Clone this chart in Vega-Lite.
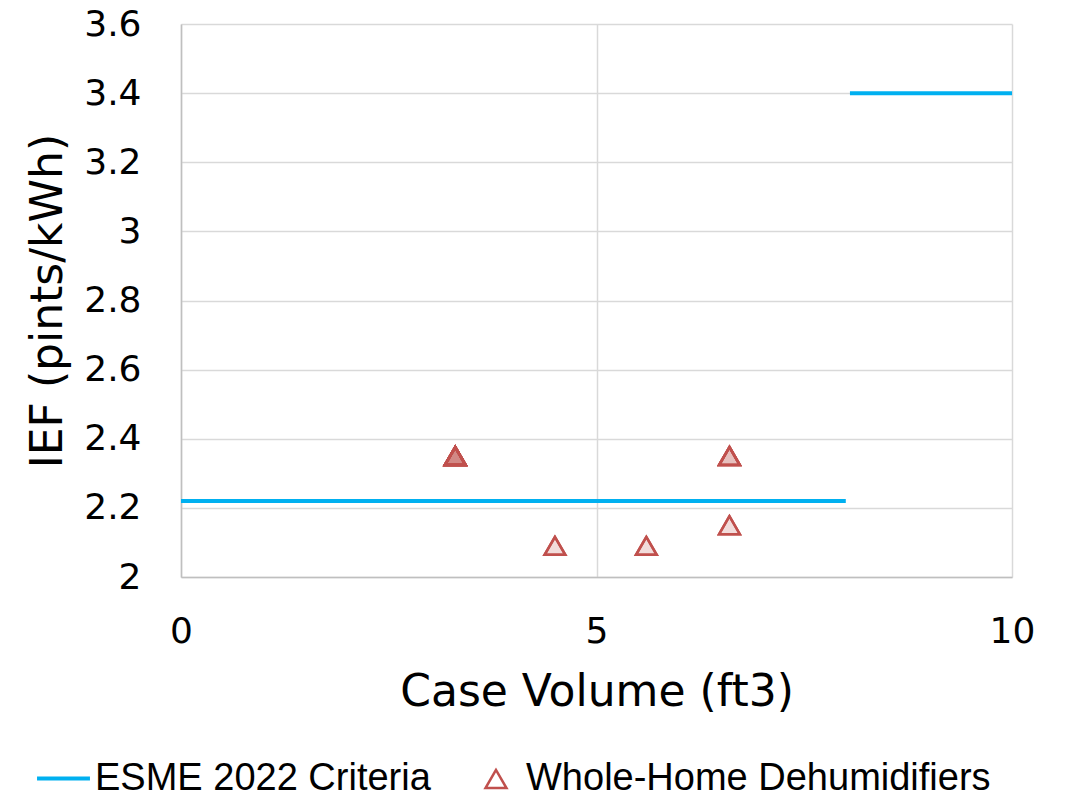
{
  "$schema": "https://vega.github.io/schema/vega-lite/v6.json",
  "width": 831,
  "height": 553,
  "autosize": {"type": "none"},
  "padding": {"left": 181, "top": 24, "right": 57, "bottom": 224},
  "background": "white",
  "config": {
    "view": {"stroke": null},
    "font": "DejaVu Sans",
    "axis": {
      "gridColor": "#d9d9d9",
      "gridWidth": 1.5,
      "domainColor": "#bfbfbf",
      "domainWidth": 1.5,
      "ticks": false,
      "labelColor": "#000000",
      "titleColor": "#000000",
      "labelFont": "DejaVu Sans",
      "titleFont": "DejaVu Sans",
      "titleFontWeight": "normal"
    }
  },
  "datasets": {
    "criteria": [
      {"volume": 0, "ief": 2.22, "segment": "low", "series": "ESME 2022 Criteria"},
      {"volume": 8, "ief": 2.22, "segment": "low", "series": "ESME 2022 Criteria"},
      {"volume": 8.05, "ief": 3.4, "segment": "high", "series": "ESME 2022 Criteria"},
      {"volume": 10, "ief": 3.4, "segment": "high", "series": "ESME 2022 Criteria"}
    ],
    "units": [
      {"volume": 3.3, "ief": 2.35, "kind": "Whole-Home Dehumidifiers"},
      {"volume": 3.3, "ief": 2.35, "kind": "Whole-Home Dehumidifiers"},
      {"volume": 3.3, "ief": 2.35, "kind": "Whole-Home Dehumidifiers"},
      {"volume": 3.3, "ief": 2.35, "kind": "Whole-Home Dehumidifiers"},
      {"volume": 3.3, "ief": 2.35, "kind": "Whole-Home Dehumidifiers"},
      {"volume": 4.5, "ief": 2.09, "kind": "Whole-Home Dehumidifiers"},
      {"volume": 5.6, "ief": 2.09, "kind": "Whole-Home Dehumidifiers"},
      {"volume": 6.6, "ief": 2.35, "kind": "Whole-Home Dehumidifiers"},
      {"volume": 6.6, "ief": 2.35, "kind": "Whole-Home Dehumidifiers"},
      {"volume": 6.6, "ief": 2.15, "kind": "Whole-Home Dehumidifiers"}
    ]
  },
  "encoding": {
    "x": {
      "field": "volume",
      "type": "quantitative",
      "scale": {"domain": [0, 10], "nice": false},
      "axis": {
        "title": "Case Volume (ft3)",
        "values": [0, 5, 10],
        "labelFontSize": 36,
        "labelPadding": 37,
        "titleFontSize": 44,
        "titlePadding": 21,
        "labelFlush": false
      }
    },
    "y": {
      "field": "ief",
      "type": "quantitative",
      "scale": {"domain": [2, 3.6], "nice": false, "zero": false},
      "axis": {
        "title": "IEF (pints/kWh)",
        "values": [2, 2.2, 2.4, 2.6, 2.8, 3, 3.2, 3.4, 3.6],
        "labelExpr": "format(datum.value, '~g')",
        "labelFontSize": 36,
        "labelPadding": 40,
        "titleFontSize": 44,
        "titlePadding": 13
      }
    }
  },
  "layer": [
    {
      "data": {"name": "criteria"},
      "mark": {"type": "line", "strokeWidth": 4, "strokeCap": "butt"},
      "encoding": {
        "detail": {"field": "segment"},
        "stroke": {
          "field": "series",
          "type": "nominal",
          "scale": {"domain": ["ESME 2022 Criteria"], "range": ["#00b0f0"]},
          "legend": {
            "title": null,
            "orient": "none",
            "legendX": -146,
            "legendY": 726,
            "symbolType": "stroke",
            "symbolSize": 2800,
            "symbolStrokeWidth": 4,
            "labelFontSize": 38,
            "labelFont": "Liberation Sans",
            "labelColor": "#000000",
            "labelLimit": 0,
            "labelOffset": 3
          }
        }
      }
    },
    {
      "data": {"name": "units"},
      "mark": {
        "type": "point",
        "filled": false,
        "color": "#c0504d",
        "opacity": 1,
        "strokeWidth": 2.5,
        "size": 430
      },
      "encoding": {
        "shape": {
          "field": "kind",
          "type": "nominal",
          "scale": {"domain": ["Whole-Home Dehumidifiers"], "range": ["triangle-up"]},
          "legend": {
            "title": null,
            "orient": "none",
            "legendX": 296,
            "legendY": 736,
            "symbolSize": 440,
            "symbolStrokeWidth": 2.5,
            "symbolOpacity": 1,
            "labelFontSize": 38,
            "labelFont": "Liberation Sans",
            "labelColor": "#000000",
            "labelLimit": 0,
            "labelOffset": 11
          }
        }
      }
    },
    {
      "data": {"name": "units"},
      "mark": {
        "type": "point",
        "shape": "triangle-up",
        "filled": true,
        "fill": "#c0504d",
        "fillOpacity": 0.2,
        "stroke": "#c0504d",
        "strokeWidth": 2.5,
        "strokeOpacity": 1,
        "size": 430
      }
    }
  ]
}
